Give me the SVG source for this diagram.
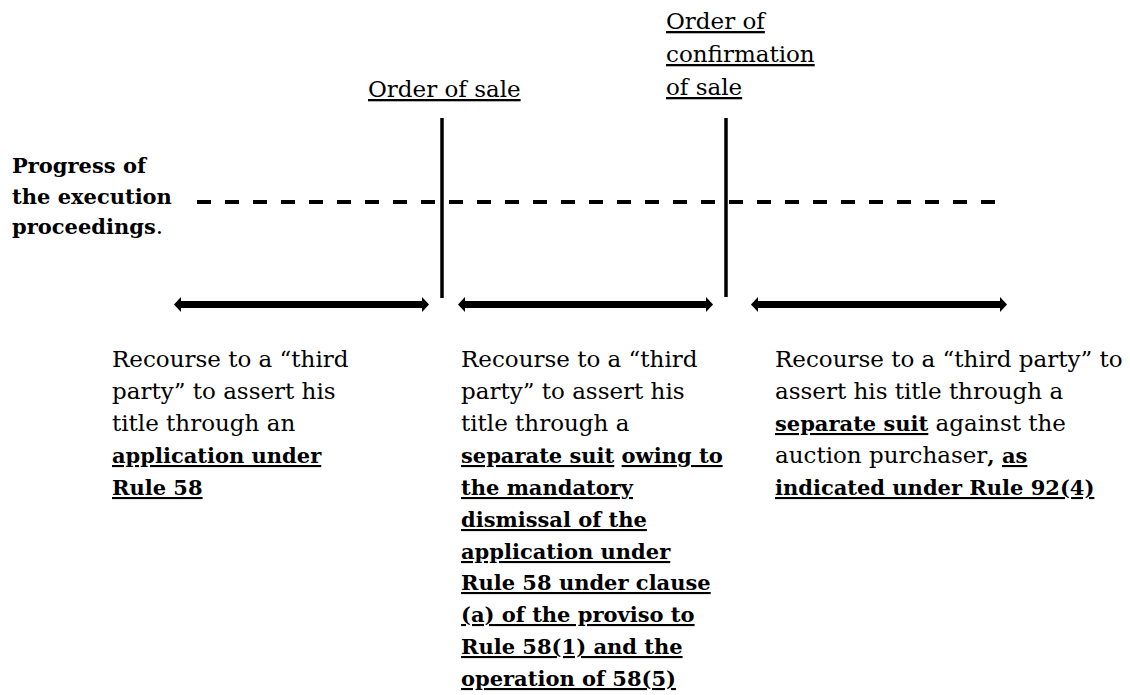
<svg xmlns="http://www.w3.org/2000/svg" width="1130" height="695" viewBox="0 0 1130 695">
<defs>
<style>
text { font-family: "DejaVu Serif", "Liberation Serif", serif; font-size: 23px; fill: #000; text-decoration-skip-ink: none; }
.b { font-weight: bold; font-size: 21px; }
.u { text-decoration: underline; text-decoration-skip-ink: none; }
.ax { stroke: #000; stroke-width: 7; marker-start: url(#head); marker-end: url(#head); }
.vl { stroke: #000; stroke-width: 3.5; }
.dash { stroke: #000; stroke-width: 4; stroke-dasharray: 14 14; }
</style>
<marker id="head" markerUnits="userSpaceOnUse" markerWidth="7" markerHeight="15" viewBox="0 0 7 15" refX="0" refY="7.5" orient="auto-start-reverse">
<path d="M0,0 L7,7.5 L0,15 z" fill="#000"/>
</marker>
</defs>
<rect width="1130" height="695" fill="#fff"/>

<g id="connectors">
<line class="dash" x1="197" y1="202" x2="996" y2="202"/>
<line class="vl" x1="442" y1="118" x2="442" y2="298"/>
<line class="vl" x1="726" y1="118" x2="726" y2="297"/>
<line class="ax" x1="181" y1="304.5" x2="422" y2="304.5"/>
<line class="ax" x1="465" y1="304.5" x2="706" y2="304.5"/>
<line class="ax" x1="758" y1="304.5" x2="1000" y2="304.5"/>
</g>

<g id="label-progress">
<text x="12" y="173" class="b">Progress of</text>
<text x="12" y="204" class="b">the execution</text>
<text x="12" y="234"><tspan class="b">proceedings</tspan>.</text>
</g>

<g id="label-order-of-sale">
<text x="368" y="97" class="u">Order of sale</text>
</g>

<g id="label-order-of-confirmation">
<text x="666" y="29" class="u">Order of</text>
<text x="666" y="62" class="u">confirmation</text>
<text x="666" y="95" class="u">of sale</text>
</g>

<g id="col1">
<text x="112" y="367">Recourse to a “third</text>
<text x="112" y="399">party” to assert his</text>
<text x="112" y="431">title through an</text>
<text x="112" y="463" class="b u">application under</text>
<text x="112" y="495" class="b u">Rule 58</text>
</g>

<g id="col2">
<text x="461" y="367">Recourse to a “third</text>
<text x="461" y="399">party” to assert his</text>
<text x="461" y="431">title through a</text>
<text x="461" y="463" class="b"><tspan class="u">separate suit</tspan> <tspan class="u">owing to</tspan></text>
<text x="461" y="495" class="b u">the mandatory</text>
<text x="461" y="527" class="b u">dismissal of the</text>
<text x="461" y="559" class="b u">application under</text>
<text x="461" y="590" class="b u">Rule 58 under clause</text>
<text x="461" y="622" class="b u">(a) of the proviso to</text>
<text x="461" y="654" class="b u">Rule 58(1) and the</text>
<text x="461" y="686" class="b u">operation of 58(5)</text>
</g>

<g id="col3">
<text x="775" y="367">Recourse to a “third party” to</text>
<text x="775" y="399">assert his title through a</text>
<text x="775" y="431"><tspan class="b u">separate suit</tspan> against the</text>
<text x="775" y="463">auction purchaser<tspan class="b">, <tspan class="u">as</tspan></tspan></text>
<text x="775" y="495" class="b u">indicated under Rule 92(4)</text>
</g>
</svg>
